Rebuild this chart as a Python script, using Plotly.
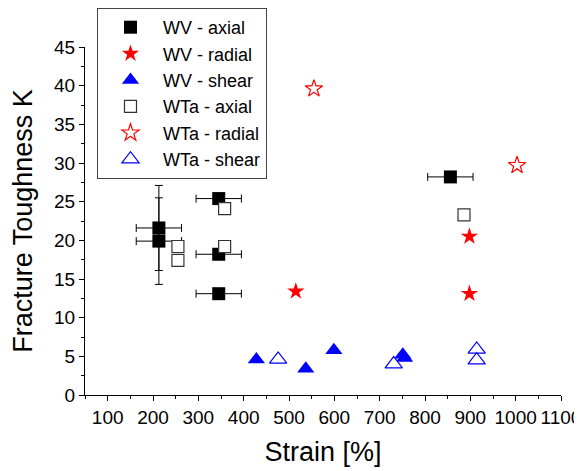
import plotly.graph_objects as go

# WV - axial (filled squares, with error bars)
wv_axial_x = [213, 213, 345, 345, 345, 856]
wv_axial_y = [21.6, 19.9, 25.4, 18.2, 13.1, 28.2]
wv_axial_xerr = [50, 50, 50, 50, 50, 50]
wv_axial_yerr = [5.5, 5.6, 0, 0, 0, 0]

# WV - radial (filled stars)
wv_radial_x = [515, 898, 898]
wv_radial_y = [13.4, 20.5, 13.1]

# WV - shear (filled triangles)
wv_shear_x = [428, 537, 599, 751, 755]
wv_shear_y = [4.6, 3.4, 5.8, 5.2, 4.8]

# WTa - axial (open squares)
wta_axial_x = [255, 255, 358, 358, 886]
wta_axial_y = [19.2, 17.4, 24.1, 19.2, 23.3]

# WTa - radial (open stars)
wta_radial_x = [555, 1003]
wta_radial_y = [39.6, 29.7]

# WTa - shear (open triangles)
wta_shear_x = [476, 731, 914, 914]
wta_shear_y = [4.6, 4.0, 5.9, 4.5]

x_ticks = [100, 200, 300, 400, 500, 600, 700, 800, 900, 1000, 1100]
y_ticks = [0, 5, 10, 15, 20, 25, 30, 35, 40, 45]

FONT = "Liberation Sans, Arial, sans-serif"

# the page body adds an 8px offset, so the figure is 8px smaller
W, H = 574, 463
ML, MR, MT, MB = 77, 21, 39, 76
PW, PH = W - ML - MR, H - MT - MB

fig = go.Figure()

fig.add_trace(go.Scatter(
    x=wv_axial_x, y=wv_axial_y, mode="markers", name="WV - axial",
    marker=dict(symbol="square", size=13, color="black", line=dict(width=0)),
    error_x=dict(type="data", array=wv_axial_xerr, color="black", thickness=1, width=4),
    error_y=dict(type="data", array=wv_axial_yerr, color="black", thickness=1, width=4),
))
fig.add_trace(go.Scatter(
    x=wv_radial_x, y=wv_radial_y, mode="markers", name="WV - radial",
    marker=dict(symbol="star", size=13, color="red", line=dict(width=0)),
))
fig.add_trace(go.Scatter(
    x=wv_shear_x, y=wv_shear_y, mode="markers", name="WV - shear",
    marker=dict(symbol="triangle-up", size=15, color="blue", line=dict(width=0)),
))
fig.add_trace(go.Scatter(
    x=wta_axial_x, y=wta_axial_y, mode="markers", name="WTa - axial",
    marker=dict(symbol="square", size=12, color="white", line=dict(width=1.2, color="#333333")),
))
fig.add_trace(go.Scatter(
    x=wta_radial_x, y=wta_radial_y, mode="markers", name="WTa - radial",
    marker=dict(symbol="star", size=13, color="white", line=dict(width=1.2, color="red")),
))
fig.add_trace(go.Scatter(
    x=wta_shear_x, y=wta_shear_y, mode="markers", name="WTa - shear",
    marker=dict(symbol="triangle-up", size=15, color="white", line=dict(width=1.2, color="blue")),
))

fig.update_layout(
    width=W, height=H,
    margin=dict(l=ML, r=MR, t=MT, b=MB, autoexpand=False),
    paper_bgcolor="white", plot_bgcolor="white",
    font=dict(family=FONT, color="black"),
    showlegend=True,
    legend=dict(
        x=(89 - ML) / PW, y=1 + MT / PH, xanchor="left", yanchor="top",
        bgcolor="white", bordercolor="#444444", borderwidth=1,
        font=dict(size=18, family=FONT),
        itemwidth=55,
        tracegroupgap=0,
    ),
    xaxis=dict(
        range=[50, 1100], tickvals=x_ticks, ticktext=[str(v) for v in x_ticks],
        showgrid=False, zeroline=False, showline=True, linecolor="black", linewidth=1,
        ticks="outside", ticklen=5, tickcolor="black", tickwidth=1, tickangle=0,
        tickfont=dict(size=19, family=FONT),
        minor=dict(dtick=50, tick0=50, ticks="outside", ticklen=3, tickcolor="black", showgrid=False),
        title=dict(text="Strain [%]", font=dict(size=27, family=FONT), standoff=15),
    ),
    yaxis=dict(
        range=[0, 45], tickvals=y_ticks, ticktext=[str(v) for v in y_ticks],
        showgrid=False, zeroline=False, showline=True, linecolor="black", linewidth=1,
        ticks="outside", ticklen=5, tickcolor="black", tickwidth=1,
        tickfont=dict(size=19, family=FONT),
        minor=dict(dtick=2.5, tick0=0, ticks="outside", ticklen=3, tickcolor="black", showgrid=False),
        title=dict(text="Fracture Toughness K", font=dict(size=27, family=FONT), standoff=20),
    ),
)

fig.write_html("out.html")
